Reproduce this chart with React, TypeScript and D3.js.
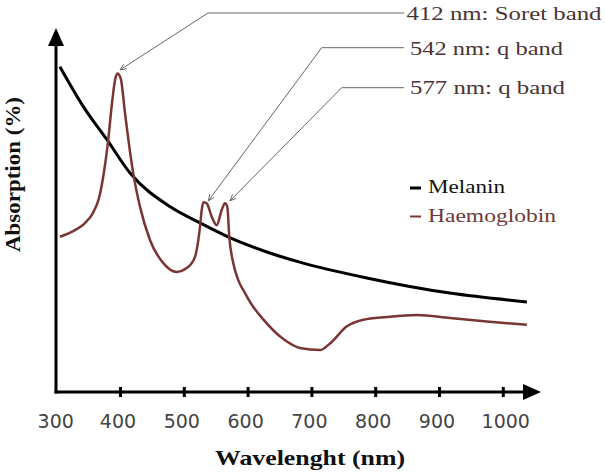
import React from "react";
import * as d3 from "d3";

// Wavelength (nm) and absorption (arbitrary %, 0-100)
const melaninWl = [305, 342, 379, 415, 478, 525, 572, 634, 681, 786, 916, 1037];
const melaninAbs = [92.4, 81.0, 71.6, 62.2, 52.6, 48.0, 43.8, 39.5, 36.9, 32.4, 28.1, 25.6];

const hbWl = [305, 328.7, 344.4, 356.9, 366.3, 374.1, 380.4, 386.7, 391.4, 395, 400.3, 407, 413.8, 420, 430.6, 446.2, 467.1, 488, 503.8, 516.8, 522, 524.6, 527.3, 529.8, 535.1, 543, 550.8, 558.6, 563.8, 567.4, 570.5, 576.8, 584.6, 595.1, 606.1, 623.4, 654.7, 681.3, 712.7, 728.4, 754.5, 780.6, 817.2, 864.3, 916.5, 974, 1037];
const hbAbs = [44.1, 46.0, 48.0, 50.9, 55.1, 62.5, 71.0, 82.1, 88.6, 90.5, 89.1, 79.3, 69.7, 62.1, 52.6, 43.2, 36.6, 34.1, 35.2, 38.4, 43.2, 47.0, 51.7, 53.9, 53.6, 49.8, 47.4, 51.7, 53.6, 52.6, 44.1, 36.6, 31.8, 28.1, 24.7, 20.7, 15.1, 12.5, 11.9, 13.8, 18.6, 20.5, 21.3, 21.9, 21.0, 20.0, 19.1];

const xTicks = [300, 400, 500, 600, 700, 800, 900, 1000];

const annLabels = ["412 nm: Soret band", "542 nm: q band", "577 nm: q band"];
const annTipWl = [399.2, 537.6, 571.6];
const annTipAbs = [91.5, 54.3, 54.3];

const legendLabels = ["Melanin", "Haemoglobin"];

const HB = "#7a3535";
const SERIF = "'Liberation Serif', 'Times New Roman', serif";

export default function App() {
  const W = 605, H = 476;
  const x = d3.scaleLinear().domain([300, 1000]).range([56.7, 503.3]);
  const y = d3.scaleLinear().domain([0, 100]).range([392, 40]);
  const line = d3
    .line<[number, number]>()
    .x((d) => x(d[0]))
    .y((d) => y(d[1]))
    .curve(d3.curveMonotoneX);
  const mel = line(melaninWl.map((w, i) => [w, melaninAbs[i]]) as [number, number][]) || "";
  const hb = line(hbWl.map((w, i) => [w, hbAbs[i]]) as [number, number][]) || "";

  const ox = 56, oy = 392;
  // annotation layout (elbow positions, text positions)
  const elbows = [
    { ex: 208, ey: 13, tx: 406.5, ty: 20, tl: 195 },
    { ex: 321.7, ey: 47.7, tx: 410, ty: 55, tl: 153 },
    { ex: 341.7, ey: 87.7, tx: 410, ty: 94, tl: 155 },
  ];

  const arrowHead = (tx: number, ty: number, fx: number, fy: number) => {
    const ang = Math.atan2(fy - ty, fx - tx);
    const L = 7, a = 0.4;
    const p1 = [tx + L * Math.cos(ang + a), ty + L * Math.sin(ang + a)];
    const p2 = [tx + L * Math.cos(ang - a), ty + L * Math.sin(ang - a)];
    return `M${p1[0]},${p1[1]}L${tx},${ty}L${p2[0]},${p2[1]}`;
  };

  return (
    <svg width={W} height={H} style={{ position: "absolute", left: 0, top: 0, background: "#fff" }}>
      <rect width={W} height={H} fill="#fff" />
      {/* axes */}
      <line x1={ox} y1={oy + 1.5} x2={ox} y2={44} stroke="#000" strokeWidth={3} />
      <path d={`M${ox},28L${ox - 8},46L${ox + 8},46Z`} fill="#000" />
      <line x1={ox - 1.5} y1={oy} x2={526} y2={oy} stroke="#000" strokeWidth={3} />
      <path d={`M541,${oy}L523,${oy - 8}L523,${oy + 8}Z`} fill="#000" />
      {xTicks.slice(1).map((t) => (
        <line key={t} x1={x(t)} x2={x(t)} y1={oy - 5} y2={oy + 5} stroke="#000" strokeWidth={3} />
      ))}
      {xTicks.map((t) => (
        <text
          key={"l" + t}
          x={t === 300 ? x(t) - 1 : t === 1000 ? x(t) + 2.5 : x(t) - 2.5}
          y={428}
          textAnchor="middle"
          fontFamily="'DejaVu Sans', Verdana, sans-serif"
          fontSize={19}
          fill="#444"
        >
          {t}
        </text>
      ))}
      <text x={215} y={465} fontFamily={SERIF} fontWeight="bold" fontSize={21} textLength={190} lengthAdjust="spacingAndGlyphs" fill="#111">
        Wavelenght (nm)
      </text>
      <text
        transform="translate(20,252) rotate(-90)"
        x={0}
        y={0}
        fontFamily={SERIF}
        fontWeight="bold"
        fontSize={21}
        textLength={155}
        lengthAdjust="spacingAndGlyphs"
        fill="#111"
      >
        Absorption (%)
      </text>

      {/* curves */}
      <path d={mel} fill="none" stroke="#000" strokeWidth={3} strokeLinejoin="round" />
      <path d={hb} fill="none" stroke={HB} strokeWidth={2.5} strokeLinejoin="round" />

      {/* annotations */}
      {annLabels.map((lab, i) => {
        const tx = x(annTipWl[i]);
        const ty = y(annTipAbs[i]);
        const e = elbows[i];
        return (
          <g key={lab}>
            <path d={`M404,${e.ey}L${e.ex},${e.ey}L${tx},${ty}`} fill="none" stroke="#666" strokeWidth={1} />
            <path d={arrowHead(tx, ty, e.ex, e.ey)} fill="none" stroke="#666" strokeWidth={1} />
            <text x={e.tx} y={e.ty} fontFamily={SERIF} fontSize={19} textLength={e.tl} lengthAdjust="spacingAndGlyphs" fill="#4a3535">
              {lab}
            </text>
          </g>
        );
      })}

      {/* legend */}
      <line x1={410} x2={421} y1={188} y2={188} stroke="#000" strokeWidth={3} />
      <text x={428} y={193} fontFamily={SERIF} fontSize={19} textLength={77} lengthAdjust="spacingAndGlyphs" fill="#111">
        {legendLabels[0]}
      </text>
      <line x1={410} x2={421} y1={216.5} y2={216.5} stroke={HB} strokeWidth={2} />
      <text x={428} y={222} fontFamily={SERIF} fontSize={19} textLength={128} lengthAdjust="spacingAndGlyphs" fill="#6e3a3a">
        {legendLabels[1]}
      </text>
    </svg>
  );
}
